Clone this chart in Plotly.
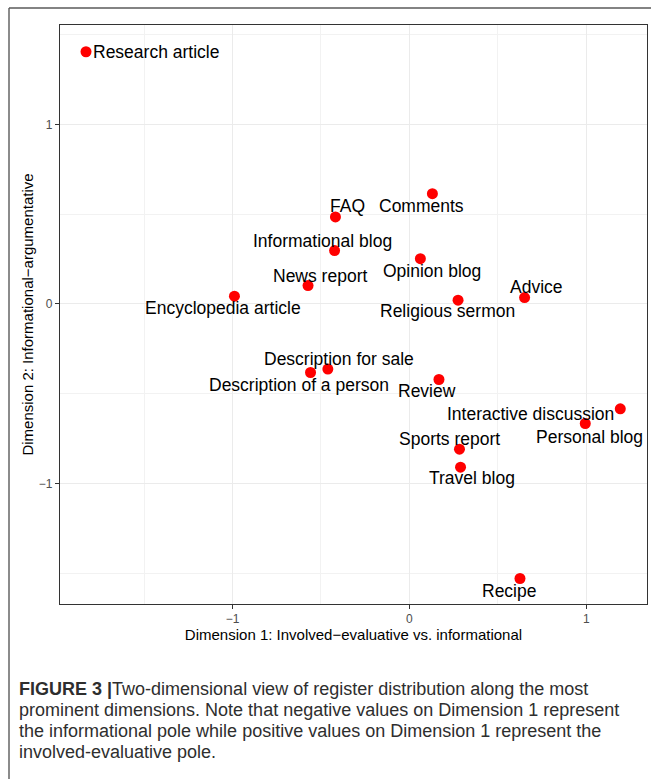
import plotly.graph_objects as go

# Register coordinates on the two most prominent dimensions
registers = [
    "Research article", "FAQ", "Comments", "Informational blog", "Opinion blog",
    "News report", "Encyclopedia article", "Religious sermon", "Advice",
    "Description for sale", "Description of a person", "Review",
    "Interactive discussion", "Personal blog", "Sports report", "Travel blog",
    "Recipe",
]
dim1 = [-1.828, -0.418, 0.130, -0.423, 0.062, -0.573, -0.989, 0.275, 0.651,
        -0.461, -0.559, 0.167, 1.192, 0.994, 0.283, 0.289, 0.625]
dim2 = [1.404, 0.484, 0.614, 0.297, 0.252, 0.102, 0.043, 0.021, 0.035,
        -0.363, -0.382, -0.421, -0.584, -0.666, -0.809, -0.909, -1.529]

x_ticks = [-1, 0, 1]
y_ticks = [-1, 0, 1]
x_title = "Dimension 1: Involved\u2212evaluative vs. informational"
y_title = "Dimension 2: Informational\u2212argumentative"

caption_lines = [
    "<b>FIGURE 3 |</b>Two-dimensional view of register distribution along the most",
    "prominent dimensions. Note that negative values on Dimension 1 represent",
    "the informational pole while positive values on Dimension 1 represent the",
    "involved-evaluative pole.",
]

# Repelled label placement: (anchor, x shift px, y shift px)
label_offsets = {
    "Research article": ("left", 5, 0),
    "FAQ": ("center", 12, 11),
    "Comments": ("center", -11, -12),
    "Informational blog": ("center", -12, 10),
    "Opinion blog": ("center", 12, -12),
    "News report": ("center", 12, 10),
    "Encyclopedia article": ("center", -11, -12),
    "Religious sermon": ("center", -11, -11),
    "Advice": ("center", 12, 11),
    "Description for sale": ("center", 11, 10),
    "Description of a person": ("center", -12, -12),
    "Review": ("center", -12, -11),
    "Interactive discussion": ("right", -4, -5),
    "Personal blog": ("center", 4, -13),
    "Sports report": ("center", -10, 10),
    "Travel blog": ("center", 11, -11),
    "Recipe": ("center", -11, -12),
}

W, H = 651, 779
L, R, T, B = 60, 4, 25, 175
pw, ph = W - L - R, H - T - B

def px_x(p):
    return (p - L) / pw

def px_y(p):
    return (H - B - p) / ph

FONT = "Liberation Sans, Arial, Helvetica, sans-serif"

fig = go.Figure()
fig.add_trace(go.Scatter(
    x=dim1, y=dim2, mode="markers",
    marker=dict(color="#FF0000", size=11, line=dict(width=0)),
    hovertext=registers, hoverinfo="text", showlegend=False,
))

annotations = []
for name, x, y in zip(registers, dim1, dim2):
    anchor, dx, dy = label_offsets[name]
    annotations.append(dict(
        x=x, y=y, xref="x", yref="y", text=name, showarrow=False,
        xanchor=anchor, yanchor="middle", xshift=dx, yshift=dy,
        font=dict(family=FONT, size=17.5, color="#000000"),
    ))

caption_y = [689, 710, 731, 752]
for line, cy in zip(caption_lines, caption_y):
    annotations.append(dict(
        x=px_x(17), y=px_y(cy), xref="paper", yref="paper", text=line,
        showarrow=False, xanchor="left", yanchor="middle",
        font=dict(family=FONT, size=18, color="#2e2e2e"),
    ))

# Outer figure frame (top and left edges)
frame_x = px_x(9)
frame_y = px_y(8)
shapes = [
    dict(type="line", xref="paper", yref="paper", x0=frame_x, x1=px_x(W + 2),
         y0=frame_y, y1=frame_y, line=dict(color="#5a5a5a", width=1.4)),
    dict(type="line", xref="paper", yref="paper", x0=frame_x, x1=frame_x,
         y0=frame_y, y1=px_y(H + 2), line=dict(color="#5a5a5a", width=1.4)),
]

axis_common = dict(
    showline=True, mirror=True, linecolor="#333333", linewidth=1.1,
    ticks="outside", ticklen=4, tickcolor="#333333", tickwidth=1.1,
    tickfont=dict(family=FONT, size=12, color="#4D4D4D"),
    showgrid=True, gridcolor="#EBEBEB", gridwidth=1.1, zeroline=False,
    minor=dict(dtick=0.5, showgrid=True, gridcolor="#F2F2F2", gridwidth=0.6,
               ticklen=0),
)

fig.update_layout(
    width=W, height=H,
    margin=dict(l=L, r=R, t=T, b=B, pad=0),
    paper_bgcolor="white", plot_bgcolor="white",
    xaxis=dict(
        range=[-1.975, 1.343], tickvals=x_ticks,
        ticktext=["\u22121", "0", "1"],
        title=dict(text=x_title, standoff=4,
                   font=dict(family=FONT, size=15, color="#000000")),
        **axis_common,
    ),
    yaxis=dict(
        range=[-1.671, 1.553], tickvals=y_ticks,
        ticktext=["\u22121", "0", "1"],
        title=dict(text=y_title, standoff=1,
                   font=dict(family=FONT, size=15, color="#000000")),
        **axis_common,
    ),
    annotations=annotations,
    shapes=shapes,
)

fig.write_html("out.html")
